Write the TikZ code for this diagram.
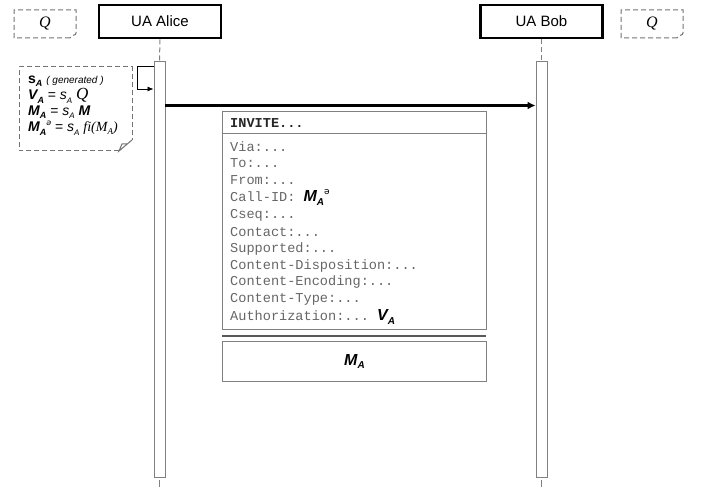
\documentclass[tikz,border=0pt]{standalone}
\usepackage{fontspec}
\setmainfont{Liberation Sans}
\setmonofont{Liberation Mono}
\newfontfamily\qfont{Liberation Serif}
\newfontfamily\ipafont{DejaVu Sans}
\usetikzlibrary{arrows.meta}

% lowered / raised index text
\newcommand\lo[2][9]{\raisebox{-0.45ex}{\fontsize{#1}{#1}\selectfont #2}}
\newcommand\hi[2][8]{\raisebox{0.9ex}{\fontsize{#1}{#1}\selectfont #2}}
\newcommand\bi{\bfseries\itshape}

\definecolor{edge}{HTML}{808080}
\definecolor{monotext}{HTML}{666666}

\tikzset{
  actor/.style={draw=black, line width=2.6pt, minimum width=122pt, minimum height=33pt,
    inner sep=0pt, font=\fontsize{15}{18}\selectfont},
  lifebar/.style={draw=edge, line width=0.9pt, fill=white, minimum width=11pt,
    minimum height=416pt, inner sep=0pt},
  lifeline/.style={draw=edge, line width=1pt, dash pattern=on 5pt off 3pt},
  lifetail/.style={draw=edge, line width=1pt, dash pattern=on 0pt off 3pt on 7pt off 20pt},
  notedash/.style={draw=black!55, line width=1pt, dash pattern=on 5pt off 3pt},
  qtext/.style={font=\fontsize{16}{16}\selectfont\qfont\itshape},
  notetext/.style={anchor=west, inner sep=0pt, font=\fontsize{14}{16}\selectfont},
  hdrtext/.style={anchor=west, inner sep=0pt, font=\fontsize{13.6}{16}\selectfont\ttfamily\bfseries, text=black!85},
  fieldtext/.style={anchor=west, inner sep=0pt, font=\fontsize{13.6}{16}\selectfont\ttfamily, text=monotext},
  msgbox/.style={draw=edge, line width=1pt, inner sep=0pt, anchor=north west},
  msgline/.style={draw=black, line width=2.6pt, -{Latex[length=8pt,width=8pt]}},
  selfline/.style={draw=black, line width=0.8pt, -{Latex[length=6pt,width=5pt]}},
}

\begin{document}
\begin{tikzpicture}[x=1pt,y=-1pt]
\useasboundingbox (0,0) rectangle (702,489);

% participants
\node[actor] (alice) at (160,21.5) {UA Alice};
\node[actor] (bob)   at (541.5,21.5) {UA Bob};

% activation bars
\node[lifebar] (aBar) at (159.5,269) {};
\node[lifebar] (bBar) at (541.5,269) {};

% lifelines above and below the bars
\coordinate (aEnd) at (159.5,488);
\coordinate (bEnd) at (541.5,488);
\draw[lifeline] (alice.south) -- (aBar.north);
\draw[lifeline] (bob.south) -- (bBar.north);
\draw[lifetail] (aBar.south) -- (aEnd);
\draw[lifetail] (bBar.south) -- (bEnd);

% Q tags beside the participants
\draw[notedash] (70,38) -- (14,38) -- (14,10) -- (76,10) -- (76,33)
  .. controls (76,36) and (72,34) .. (70,38);
\node[qtext] (qa) at (45,24) {Q};
\draw[notedash] (677,38) -- (621,38) -- (621,10) -- (683,10) -- (683,33)
  .. controls (683,36) and (679,34) .. (677,38);
\node[qtext] (qb) at (652,24) {Q};

% local computation note
\draw[notedash] (119,151) -- (19,151) -- (19,67) -- (132,67) -- (132,140);
\draw[draw=black!55, line width=1pt] (132,140) -- (119,151) -- (122,144) -- (127,144);
\node[notetext] (n1) at (28,81)
  {{\bfseries s}\lo{\bi A} {\fontsize{10}{10}\selectfont\itshape ( generated )}};
\node[notetext] (n2) at (28,96)
  {{\bi V}\lo{\bi A} = {\itshape s}\lo[8]{\itshape A} {\fontsize{17}{17}\selectfont\qfont\itshape Q}};
\node[notetext] (n3) at (28,112)
  {{\bi M}\lo{\bi A} = {\itshape s}\lo[8]{\itshape A} {\bi M}};
\node[notetext] (n4) at (28,128)
  {{\bi M}\lo{\bi A}\hi{\ipafont\itshape ə} = {\itshape s}\lo[8]{\itshape A} {\qfont\itshape fi(M\lo[9]{A})}};

% self message on Alice
\coordinate (selfA) at (137,66);
\coordinate (selfB) at (137,89);
\draw[selfline] (aBar.west |- selfA) -- (selfA) -- (selfB) -- (aBar.west |- selfB);

% INVITE from Alice to Bob
\coordinate (msgY) at (0,105.5);
\draw[msgline] (aBar.east |- msgY) -- (bBar.west |- msgY);

% SIP message contents
\node[msgbox, minimum width=264pt, minimum height=218pt] (sip) at (222,111) {};
\draw[draw=edge, line width=1pt] (sip.west |- 0,133.5) -- (sip.east |- 0,133.5);
\node[hdrtext] (h0) at (230,123.5) {INVITE...};
\node[fieldtext] (f1)  at (230,147) {Via:...};
\node[fieldtext] (f2)  at (230,163) {To:...};
\node[fieldtext] (f3)  at (230,180) {From:...};
\node[fieldtext] (f4)  at (230,197.5)
  {Call-ID: {\color{black}\fontsize{16}{16}\selectfont\rmfamily\bi M\lo[10]{A}\hi[9]{\ipafont\mdseries\upshape ə}}};
\node[fieldtext] (f5)  at (230,215.5) {Cseq:...};
\node[fieldtext] (f6)  at (230,232.5) {Contact:...};
\node[fieldtext] (f7)  at (230,249) {Supported:...};
\node[fieldtext] (f8)  at (230,265.5) {Content-Disposition:...};
\node[fieldtext] (f9)  at (230,282) {Content-Encoding:...};
\node[fieldtext] (f10) at (230,299) {Content-Type:...};
\node[fieldtext] (f11) at (230,317)
  {Authorization:... {\color{black}\fontsize{16}{16}\selectfont\rmfamily\bi V\lo[10]{A}}};

% body separator and body
\draw[draw=black!65, line width=1.4pt] (222,336) -- (486,336);
\node[msgbox, minimum width=264pt, minimum height=40pt] (body) at (222,341) {};
\node[font=\fontsize{16}{16}\selectfont\bi, text=black] (bm) at (body.center)
  {M\lo[10]{A}};
\end{tikzpicture}
\end{document}
